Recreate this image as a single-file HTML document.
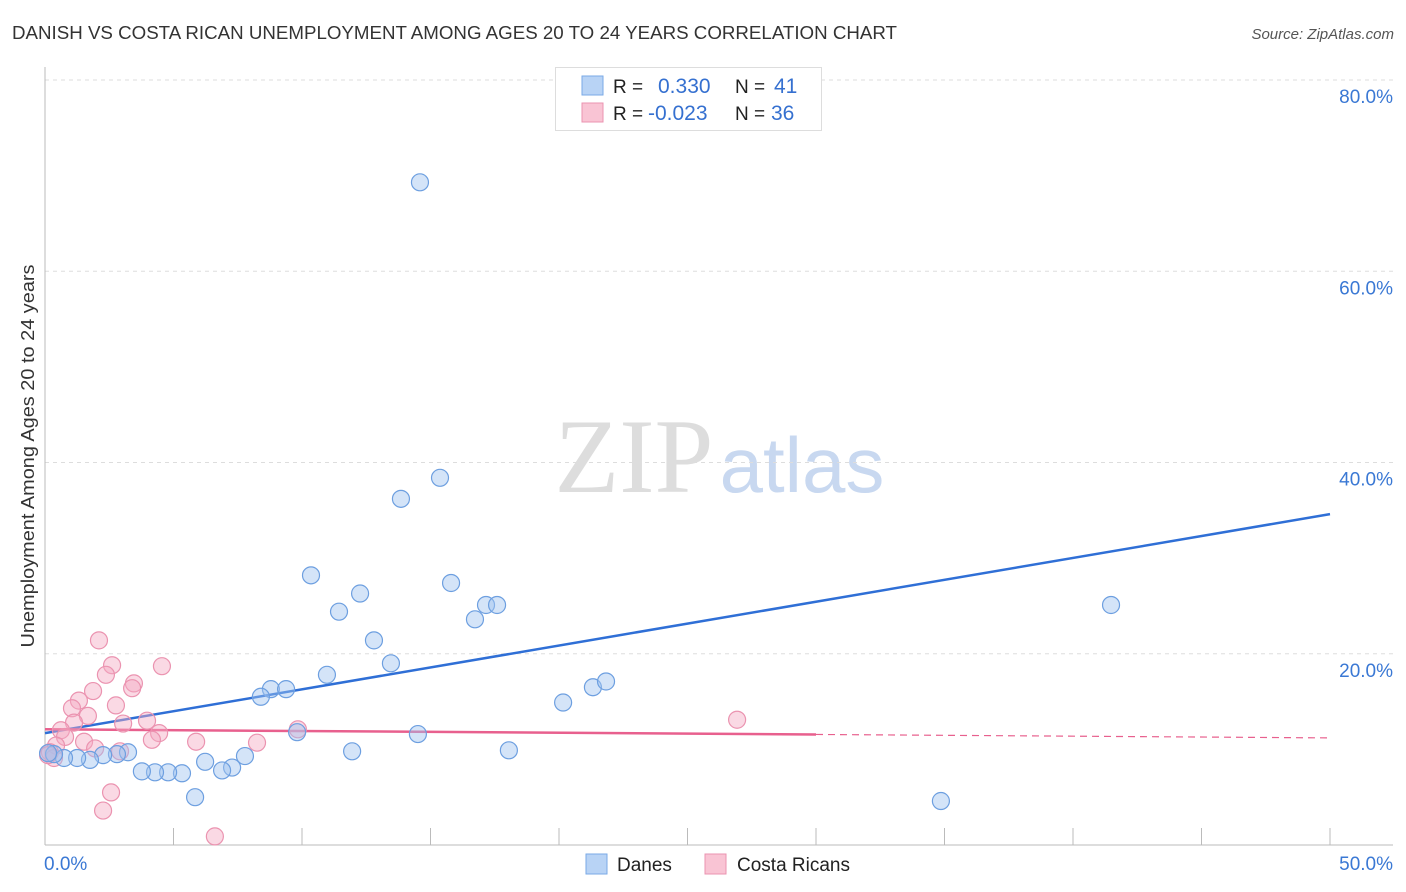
<!DOCTYPE html>
<html><head><meta charset="utf-8"><style>
body{margin:0;background:#fff;font-family:"Liberation Sans",sans-serif;}
#wrap{position:relative;width:1406px;height:892px;overflow:hidden;}
</style></head><body>
<div id="wrap">
<svg id="svg" width="1406" height="892" xmlns="http://www.w3.org/2000/svg">
<text x="12" y="39" font-size="18" fill="#333" textLength="885" lengthAdjust="spacingAndGlyphs">DANISH VS COSTA RICAN UNEMPLOYMENT AMONG AGES 20 TO 24 YEARS CORRELATION CHART</text>
<text x="1394" y="39" font-size="15" fill="#555" font-style="italic" text-anchor="end">Source: ZipAtlas.com</text>
<text x="34" y="456" font-size="18" fill="#333" text-anchor="middle" textLength="383" lengthAdjust="spacingAndGlyphs" transform="rotate(-90 34 456)">Unemployment Among Ages 20 to 24 years</text>
<text x="634" y="492" font-size="106" fill="#ddd" font-family="Liberation Serif,serif" text-anchor="middle">ZIP</text>
<text x="802" y="492" font-size="78" fill="#c8d8f0" text-anchor="middle">atlas</text>
<g id="grid"></g><g id="axes"></g><g id="lines"></g><g id="pts"></g>
<g>
<rect x="555.5" y="67.5" width="266" height="63" fill="#fff" stroke="#ddd"/>
<rect x="582" y="76" width="21" height="19" fill="#b8d3f5" stroke="#7aaae6"/>
<rect x="582" y="103" width="21" height="19" fill="#f9c4d4" stroke="#eb93b0"/>
<text x="613" y="93" font-size="19" fill="#222">R = </text><text x="658" y="93" font-size="21" fill="#3570d0">0.330</text>
<text x="735" y="93" font-size="19" fill="#222">N = </text><text x="774" y="93" font-size="21" fill="#3570d0">41</text>
<text x="613" y="120" font-size="19" fill="#222">R = </text><text x="648" y="120" font-size="21" fill="#3570d0">-0.023</text>
<text x="735" y="120" font-size="19" fill="#222">N = </text><text x="771" y="120" font-size="21" fill="#3570d0">36</text>
</g>
<g>
<rect x="586" y="854" width="21" height="20" fill="#b8d3f5" stroke="#7aaae6"/>
<text x="617" y="871" font-size="19" fill="#222">Danes</text>
<rect x="705" y="854" width="21" height="20" fill="#f9c4d4" stroke="#eb93b0"/>
<text x="737" y="871" font-size="19" fill="#222">Costa Ricans</text>
</g>
</svg>
</div>
<script>
const xTicks=[0,5,10,15,20,25,30,35,40,45,50];
const yTickVals=[20,40,60,80];
const yTickLabels=["20.0%","40.0%","60.0%","80.0%"];
const danesX=[14.59,15.37,13.85,10.35,15.80,12.26,11.44,17.16,17.59,16.73,12.80,13.46,10.97,8.79,9.38,8.40,9.81,14.51,11.95,18.05,20.16,21.32,21.83,41.48,34.86,5.84,7.78,7.28,6.89,6.23,5.33,4.79,4.28,3.77,3.23,2.80,2.26,1.75,1.25,0.74,0.35,0.12];
const danesY=[69.3,38.4,36.2,28.2,27.4,26.3,24.4,25.1,25.1,23.6,21.4,19.0,17.8,16.3,16.3,15.5,11.8,11.6,9.8,9.9,14.9,16.5,17.1,25.1,4.6,5.0,9.3,8.1,7.8,8.7,7.5,7.6,7.6,7.7,9.7,9.5,9.4,8.9,9.1,9.1,9.5,9.6];
const costaX=[2.10,4.55,2.61,2.37,1.87,1.32,3.46,3.39,2.76,1.05,1.67,1.13,3.04,0.62,3.97,4.44,4.16,9.84,26.93,5.88,8.25,1.52,1.95,0.78,0.43,0.19,2.92,2.57,2.26,6.61,0.35,0.12];
const costaY=[21.4,18.7,18.8,17.8,16.1,15.1,16.9,16.4,14.6,14.3,13.5,12.8,12.7,12.0,13.0,11.7,11.0,12.1,13.1,10.8,10.7,10.8,10.1,11.3,10.4,9.7,9.8,5.5,3.6,0.9,9.1,9.4];
const danesTrend=[11.7,34.6];
const costaTrend=[12.1,11.2];
const costaSolidEnd=30;
const NS="http://www.w3.org/2000/svg";
const X=v=>45+v/50*1285, Y=v=>845-v/80*765;
function mk(tag,attrs,parent){const e=document.createElementNS(NS,tag);for(const k in attrs)e.setAttribute(k,attrs[k]);document.getElementById(parent).appendChild(e);return e;}
yTickVals.forEach((v,i)=>{
 const l=mk('line',{x1:45,x2:1393,y1:Y(v),y2:Y(v),stroke:'#ddd','stroke-dasharray':'4,4'},'grid');
 
 
 const t=mk('text',{x:1393,y:Y(v)+23,'font-size':19,fill:'#3a78d4','text-anchor':'end'},'grid');
 t.textContent=yTickLabels[i];
 
 
});
const ax=mk('line',{x1:45,x2:1393,y1:845,y2:845,stroke:'#bbb'},'axes');


const ay=mk('line',{x1:45,x2:45,y1:67,y2:845,stroke:'#bbb'},'axes');


xTicks.forEach(v=>{if(v===0)return;
 const t=mk('line',{x1:X(v),x2:X(v),y1:828,y2:845,stroke:'#bbb'},'axes');
 
 
});
const xl0=mk('text',{x:44,y:870,'font-size':19,fill:'#3a78d4','text-anchor':'start'},'axes');xl0.textContent=xTicks[0].toFixed(1)+'%';


const xl1=mk('text',{x:1393,y:870,'font-size':19,fill:'#3a78d4','text-anchor':'end'},'axes');xl1.textContent=xTicks[xTicks.length-1].toFixed(1)+'%';


function pts(xs,ys,fill,stroke,name){xs.forEach((x,i)=>{
 const c=mk('circle',{cx:X(x),cy:Y(ys[i]),r:8.5,fill:fill,stroke:stroke,'stroke-width':1.2},'pts');
 
 
});}
pts(costaX,costaY,'rgba(245,170,195,0.45)','#eb93b0','costa-rican-point');
pts(danesX,danesY,'rgba(160,195,240,0.45)','#6d9fe0','dane-point');
const bl=mk('line',{x1:X(0),y1:Y(danesTrend[0]),x2:X(50),y2:Y(danesTrend[1]),stroke:'#2f6fd6','stroke-width':2.5},'lines');


const cm=costaTrend[0]+(costaTrend[1]-costaTrend[0])*costaSolidEnd/50;
const pl=mk('line',{x1:X(0),y1:Y(costaTrend[0]),x2:X(costaSolidEnd),y2:Y(cm),stroke:'#e8608e','stroke-width':2.5},'lines');


const pd=mk('line',{x1:X(costaSolidEnd),y1:Y(cm),x2:X(50),y2:Y(costaTrend[1]),stroke:'#e8608e','stroke-width':1.2,'stroke-dasharray':'7,5'},'lines');


</script>
</body></html>
